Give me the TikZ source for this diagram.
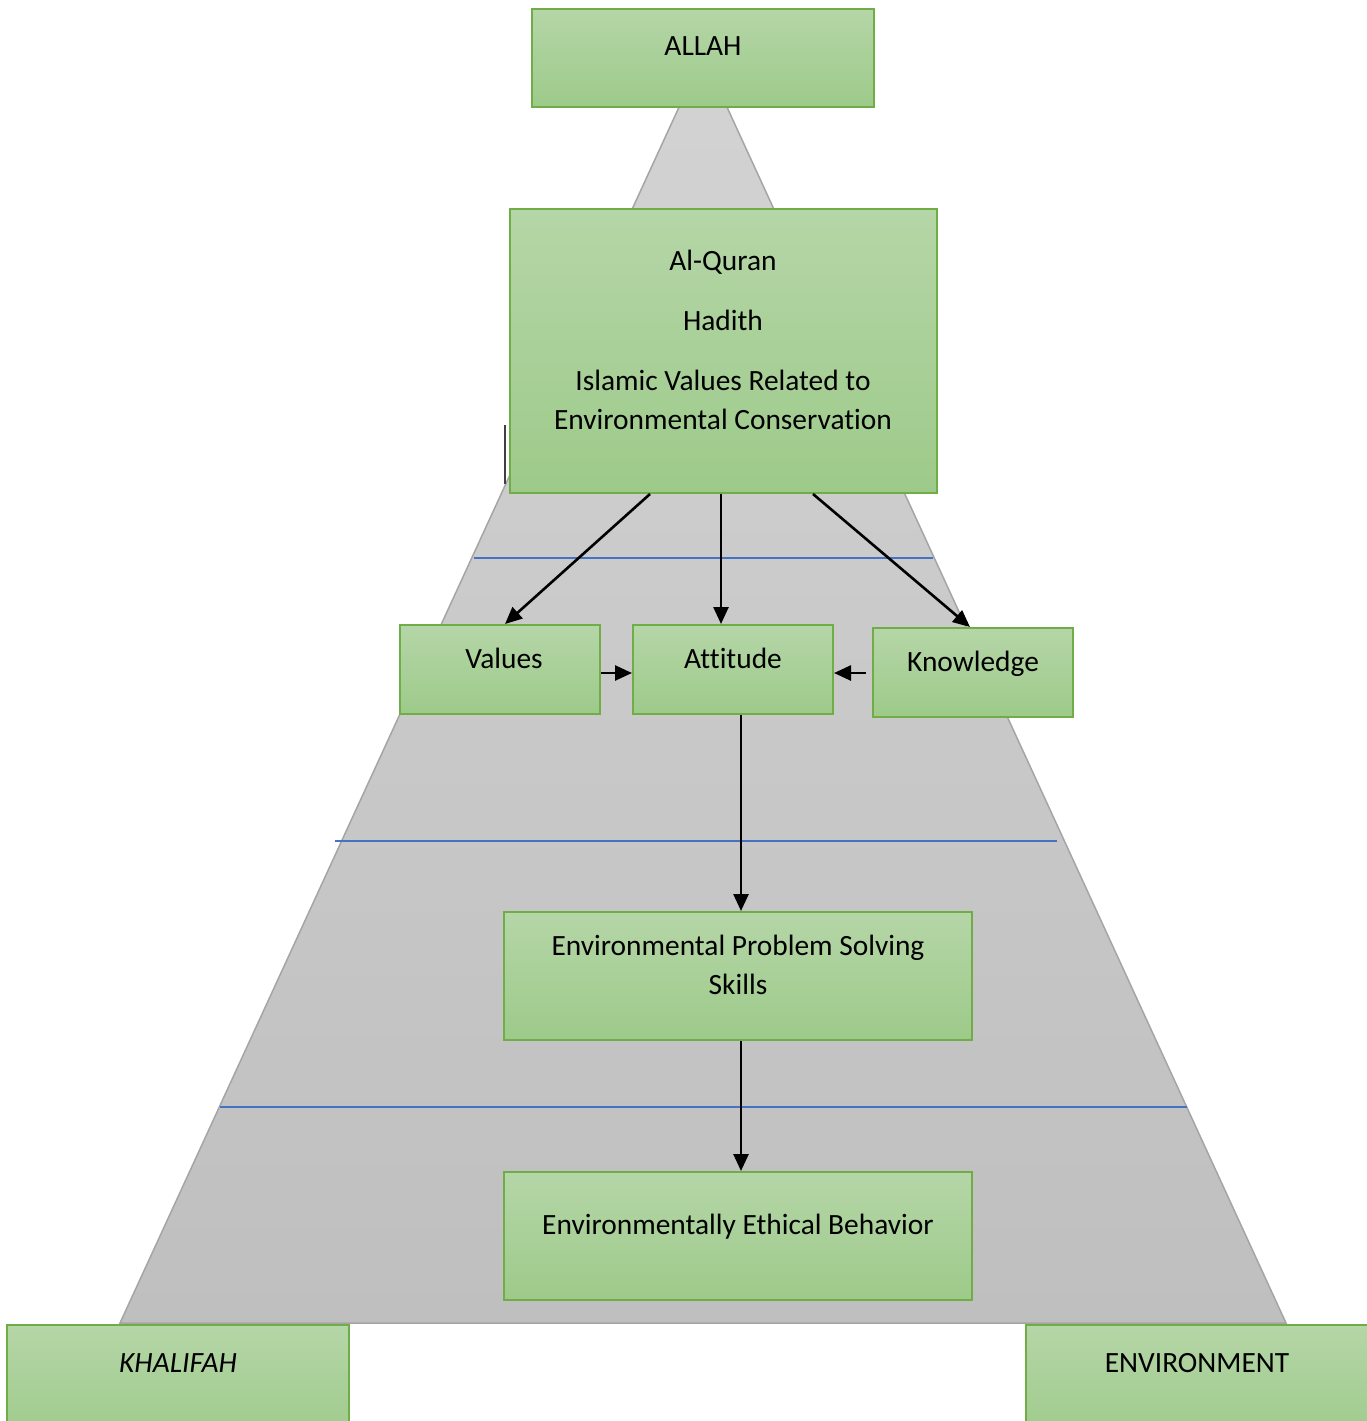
\documentclass[tikz,border=0pt]{standalone}
\usepackage{fontspec}
\setmainfont[Ligatures={NoCommon}]{Carlito}
\usetikzlibrary{arrows.meta}
\definecolor{gtop}{HTML}{B5D6A7}
\definecolor{gbot}{HTML}{9DCA8A}
\definecolor{gedge}{HTML}{70AD47}
\definecolor{ttop}{HTML}{D3D3D3}
\definecolor{tbot}{HTML}{BFBFBF}
\definecolor{tedge}{HTML}{A5A5A5}
\definecolor{bline}{HTML}{4472C4}
\tikzset{
  gbox/.style={draw=gedge, line width=2pt, top color=gtop, bottom color=gbot, rectangle, inner sep=0pt},
  txt/.style={anchor=base, font=\fontsize{29.4}{39}\selectfont, align=center, inner sep=0pt},
  conn/.style={line width=2.6pt, -{Triangle[length=17pt,width=15pt]}},
  sep/.style={draw=bline, line width=1.4pt}
}
\begin{document}
\begin{tikzpicture}[x=1pt,y=-1pt]
\useasboundingbox (0,0) rectangle (1367,1421);
\clip (0,0) rectangle (1367,1421);
% pyramid
\path[draw=tedge, line width=1.5pt, top color=ttop, bottom color=tbot] (703,55) -- (1286,1323) -- (120,1323) -- cycle;
% separator lines
\coordinate (s1a) at (474,558); \coordinate (s1b) at (933,558);
\coordinate (s2a) at (335,841); \coordinate (s2b) at (1057,841);
\coordinate (s3a) at (220,1107); \coordinate (s3b) at (1187,1107);
\draw[sep] (s1a) -- (s1b);
\draw[sep] (s2a) -- (s2b);
\draw[sep] (s3a) -- (s3b);
% stray mark
\coordinate (m1) at (505,425); \coordinate (m2) at (505,484);
\draw[line width=1.5pt, draw=black!75] (m1) -- (m2);
% boxes
\node[gbox, minimum width=342pt, minimum height=98pt] (allah) at (703,58) {};
\node[gbox, minimum width=427pt, minimum height=284pt] (src) at (723.5,351) {};
\node[gbox, minimum width=200pt, minimum height=89pt] (val) at (500,669.5) {};
\node[gbox, minimum width=200pt, minimum height=89pt] (att) at (733,669.5) {};
\node[gbox, minimum width=200pt, minimum height=89pt] (kno) at (973,672.5) {};
\node[gbox, minimum width=468pt, minimum height=128pt] (eps) at (738,976) {};
\node[gbox, minimum width=468pt, minimum height=128pt] (eeb) at (738,1236) {};
\node[gbox, minimum width=342pt, minimum height=120pt] (kha) at (178,1385) {};
\node[gbox, minimum width=350pt, minimum height=120pt] (env) at (1201,1385) {};
% texts
\node[txt] (tallah) at (703,56) {ALLAH};
\node[txt] (tsrc1) at (723,270) {Al-Quran};
\node[txt] (tsrc2) at (723,330) {Hadith};
\node[txt] (tsrc3) at (723,390) {Islamic Values Related to};
\node[txt] (tsrc4) at (723,429) {Environmental Conservation};
\node[txt] (tval) at (504,668) {Values};
\node[txt] (tatt) at (733,668) {Attitude};
\node[txt] (tkno) at (973,671) {Knowledge};
\node[txt] (teps1) at (738,955) {Environmental Problem Solving};
\node[txt] (teps2) at (738,994) {Skills};
\node[txt] (teeb) at (738,1234) {Environmentally Ethical Behavior};
\node[txt] (tkha) at (178,1372) {\itshape KHALIFAH};
\node[txt] (tenv) at (1197,1372) {ENVIRONMENT};
% connectors
\draw[conn] (src.south -| 650,0) -- (val.north -| 505,0);
\draw[conn] (src.south -| 721,0) -- (att.north -| 721,0);
\draw[conn] (src.south -| 813,0) -- (kno.north -| 970,0);
\draw[conn] (val.east |- 0,673) -- (att.west |- 0,673);
\coordinate (kstart) at (866,673);
\draw[conn] (kstart) -- (att.east |- 0,673);
\draw[conn] (att.south -| 741,0) -- (eps.north -| 741,0);
\draw[conn] (eps.south -| 741,0) -- (eeb.north -| 741,0);
\end{tikzpicture}
\end{document}
